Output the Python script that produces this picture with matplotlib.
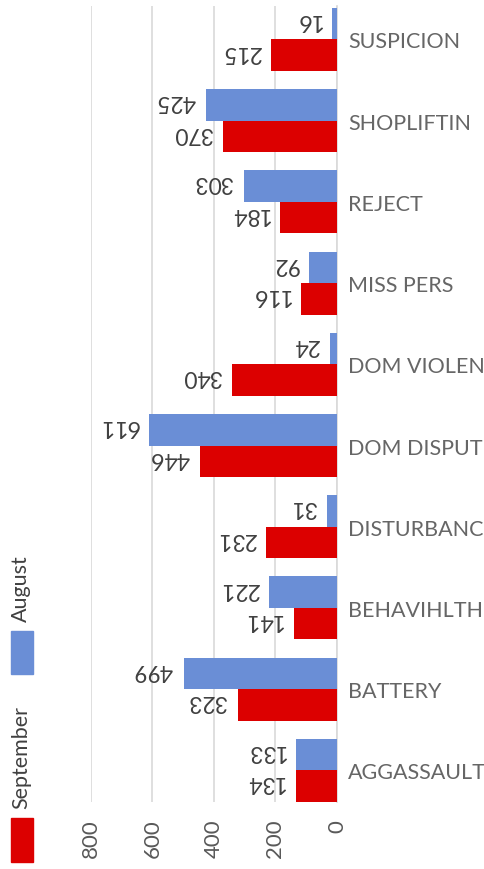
import matplotlib
matplotlib.use("Agg")
import matplotlib.pyplot as plt
from matplotlib.patches import Rectangle
import numpy as np

categories = ["SUSPICION", "SHOPLIFTIN", "REJECT", "MISS PERS", "DOM VIOLEN",
              "DOM DISPUT", "DISTURBANC", "BEHAVIHLTH", "BATTERY", "AGGASSAULT"]
august = [16, 425, 303, 92, 24, 611, 31, 221, 499, 133]
september = [215, 370, 184, 116, 340, 446, 231, 141, 323, 134]
series_names = ["August", "September"]
value_ticks = [0, 200, 400, 600, 800]

BLUE = "#6a8ed6"
RED = "#dc0000"
FONT = ["Lato", "DejaVu Sans"]

plt.rcParams['font.family'] = FONT

W, H = 485, 870
fig = plt.figure(figsize=(W / 100, H / 100), dpi=100)
ax = fig.add_axes([91 / W, 1 - 803 / H, 246 / W, (803 - 7) / H])

y = np.arange(len(categories))
h = 0.388
b1 = ax.barh(y - h / 2, august, height=h, color=BLUE, zorder=3)
b2 = ax.barh(y + h / 2, september, height=h, color=RED, zorder=3)

for bars, vals in ((b1, august), (b2, september)):
    for rect, v in zip(bars, vals):
        ax.annotate(str(v), (v, rect.get_y() + rect.get_height() / 2),
                    xytext=(-7.5, 3), textcoords="offset points",
                    rotation=180, ha="right", va="center",
                    fontsize=16.5, color="#404040", zorder=4)

ax.set_xlim(800, 0)
ax.set_ylim(9.39, -0.4125)
ax.set_xticks(value_ticks)
ax.set_xticklabels([str(t) for t in value_ticks], rotation=90,
                   fontsize=16, color="#595959")
ax.tick_params(axis="x", length=0, pad=12)

ax.yaxis.tick_right()
ax.set_yticks(y)
ax.set_yticklabels(categories, fontsize=15.5, color="#666666")
ax.tick_params(axis="y", length=0, pad=8)

for s in ax.spines.values():
    s.set_visible(False)
ax.grid(axis="x", color="#d9d9d9", linewidth=1.2, zorder=0)
ax.set_axisbelow(True)
ax.axvline(0, color="#d9d9d9", linewidth=1.2, zorder=1, clip_on=False)

# Legend (rotated, drawn manually)
fig.patches.append(Rectangle((11 / W, 1 - 863 / H), 22 / W, 44 / H,
                             transform=fig.transFigure, color=RED))
fig.text(21 / W, 1 - 809 / H, series_names[1], rotation=90, ha="center",
         va="bottom", fontsize=15.5, color="#404040")
fig.patches.append(Rectangle((11 / W, 1 - 675 / H), 22 / W, 43 / H,
                             transform=fig.transFigure, color=BLUE))
fig.text(21 / W, 1 - 622 / H, series_names[0], rotation=90, ha="center",
         va="bottom", fontsize=15.5, color="#404040")

fig.savefig("out.png", dpi=100)
